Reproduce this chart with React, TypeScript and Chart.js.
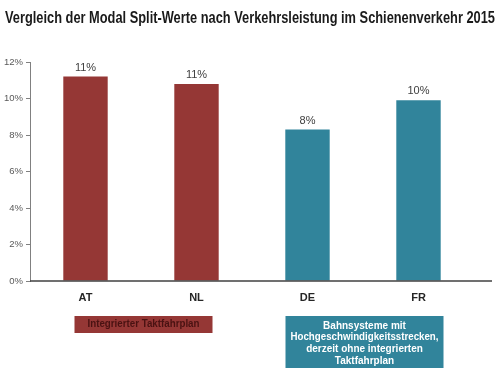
import React, { useEffect, useRef } from "react";
import { Chart, registerables } from "chart.js";

Chart.register(...registerables);

const TITLE = "Vergleich der Modal Split-Werte nach Verkehrsleistung im Schienenverkehr 2015";
const categories = ["AT", "NL", "DE", "FR"];
const modalSplit = [11.2, 10.8, 8.3, 9.9];
const barColors = ["#953735", "#953735", "#31849B", "#31849B"];
const yMax = 12;
const yStep = 2;
const groupRed = ["Integrierter Taktfahrplan"];
const groupTeal = [
  "Bahnsysteme mit",
  "Hochgeschwindigkeitsstrecken,",
  "derzeit ohne integrierten",
  "Taktfahrplan",
];

const FONT = "'Liberation Sans', Arial, sans-serif";

const overlay = {
  id: "overlay",
  afterDraw(chart: any) {
    const { ctx, chartArea } = chart;
    const x = chart.scales.x;
    const y = chart.scales.y;
    ctx.save();
    // title
    ctx.fillStyle = "#1a1a1a";
    ctx.font = `bold 16.5px ${FONT}`;
    ctx.textAlign = "left";
    ctx.textBaseline = "middle";
    ctx.fillText(TITLE, 5, 18, 490);

    // x baseline
    ctx.strokeStyle = "#404040";
    ctx.lineWidth = 1.5;
    ctx.beginPath();
    ctx.moveTo(chartArea.left, y.getPixelForValue(0));
    ctx.lineTo(492, y.getPixelForValue(0));
    ctx.stroke();

    // value labels
    const meta = chart.getDatasetMeta(0);
    ctx.fillStyle = "#404040";
    ctx.font = `11px ${FONT}`;
    ctx.textAlign = "center";
    ctx.textBaseline = "middle";
    meta.data.forEach((bar: any, i: number) => {
      ctx.fillText(Math.round(modalSplit[i]) + "%", bar.x, bar.y - 9);
    });

    // group boxes
    const xAT = x.getPixelForValue(0);
    const xNL = x.getPixelForValue(1);
    const xDE = x.getPixelForValue(2);
    const xFR = x.getPixelForValue(3);
    const redL = xAT - 11, redR = xNL + 16;
    ctx.fillStyle = "#953735";
    ctx.fillRect(redL, 316, redR - redL, 17);
    ctx.fillStyle = "#4a1212";
    ctx.font = `bold 10px ${FONT}`;
    ctx.fillText(groupRed[0], (redL + redR) / 2, 324.5, 112);

    const tL = xDE - 22, tR = xFR + 25;
    ctx.fillStyle = "#31849B";
    ctx.fillRect(tL, 316, tR - tL, 52);
    ctx.fillStyle = "#ffffff";
    groupTeal.forEach((line, i) => {
      ctx.fillText(line, (tL + tR) / 2, 326 + i * 11.7, 148);
    });
    ctx.restore();
  },
};

export default function App() {
  const ref = useRef<HTMLCanvasElement | null>(null);
  useEffect(() => {
    document.body.style.margin = "0";
    const chart = new Chart(ref.current as HTMLCanvasElement, {
      type: "bar",
      data: {
        labels: categories,
        datasets: [
          {
            data: modalSplit,
            backgroundColor: barColors,
            barPercentage: 0.4,
            categoryPercentage: 1,
          },
        ],
      },
      options: {
        animation: false,
        responsive: false,
        maintainAspectRatio: false,
        layout: { padding: { top: 62, right: 26, left: 0, bottom: 0 } },
        plugins: {
          legend: { display: false },
          title: { display: false },
          tooltip: { enabled: false },
        },
        scales: {
          x: {
            afterFit(scale: any) {
              scale.height = 93;
            },
            grid: { display: false, drawTicks: false },
            border: { display: false },
            ticks: {
              padding: 10,
              color: "#262626",
              font: { family: FONT, size: 11, weight: "bold" },
            },
          },
          y: {
            min: 0,
            max: yMax,
            afterFit(scale: any) {
              scale.width = 30;
            },
            grid: {
              drawOnChartArea: false,
              drawTicks: true,
              tickLength: 4,
              color: "#808080",
            },
            border: { display: true, color: "#808080", width: 1 },
            ticks: {
              stepSize: yStep,
              padding: 3,
              color: "#595959",
              font: { family: FONT, size: 9.5 },
              callback: (v: any) => v + "%",
            },
          },
        },
      },
      plugins: [overlay],
    });
    return () => chart.destroy();
  }, []);
  return (
    <div style={{ position: "absolute", left: 0, top: 0, width: 500, height: 374, background: "#fff" }}>
      <canvas ref={ref} width={500} height={374} />
    </div>
  );
}
